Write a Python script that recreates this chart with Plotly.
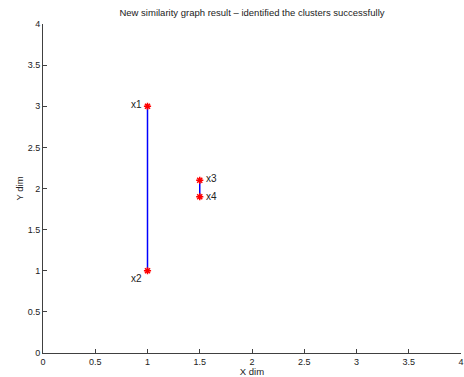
import plotly.graph_objects as go

node_x = [1.0, 1.0, 1.5, 1.5]
node_y = [3.0, 1.0, 2.1, 1.9]
node_labels = ["x1", "x2", "x3", "x4"]
edges = [(0, 1), (2, 3)]
tick_vals = [0, 0.5, 1, 1.5, 2, 2.5, 3, 3.5, 4]
tick_text = ["0", "0.5", "1", "1.5", "2", "2.5", "3", "3.5", "4"]

fig = go.Figure()
for a, b in edges:
    fig.add_trace(go.Scatter(x=[node_x[a], node_x[b]], y=[node_y[a], node_y[b]],
                             mode="lines", line=dict(color="#0000ff", width=1.5),
                             showlegend=False, hoverinfo="skip"))
fig.add_trace(go.Scatter(x=node_x, y=node_y, mode="markers",
                         marker=dict(symbol="asterisk-open", size=6, color="#ff0000",
                                     line=dict(color="#ff0000", width=1.5)),
                         showlegend=False))

positions = ["top left", "bottom left", "top right", "middle right"]
for i, lab in enumerate(node_labels):
    pos = positions[i]
    xanchor = "right" if "left" in pos else "left"
    xshift = -4 if xanchor == "right" else 4
    yshift = {"top": 2, "bottom": -8, "middle": 0}[pos.split()[0]]
    fig.add_annotation(x=node_x[i], y=node_y[i], text=lab, showarrow=False,
                       xanchor=xanchor, yanchor="middle", xshift=xshift, yshift=yshift,
                       font=dict(size=10, color="#222", family="Liberation Sans, Arial"))

axis_common = dict(showgrid=False, zeroline=False, showline=True, linecolor="#404040",
                   linewidth=1, ticks="inside", ticklen=4, tickcolor="#404040", automargin=False,
                   tickfont=dict(size=9, color="#222"), tickvals=tick_vals, ticktext=tick_text)

fig.update_layout(
    width=464, height=377,
    margin=dict(l=43, r=3, t=24, b=24),
    paper_bgcolor="white", plot_bgcolor="white",
    font=dict(family="Liberation Sans, Arial", color="#222"),
    title=dict(text="New similarity graph result \u2013 identified the clusters successfully",
               x=(43 + 461) / 2 / 464, xanchor="center", y=1 - 13 / 377, yanchor="middle",
               font=dict(size=9.5, color="#222")),
    xaxis=dict(range=[0, 4], title=dict(text="X dim", font=dict(size=9.5), standoff=0), **axis_common),
    yaxis=dict(range=[0, 4], title=dict(text="Y dim", font=dict(size=9.5), standoff=2), **axis_common),
)
fig.write_html("out.html")
